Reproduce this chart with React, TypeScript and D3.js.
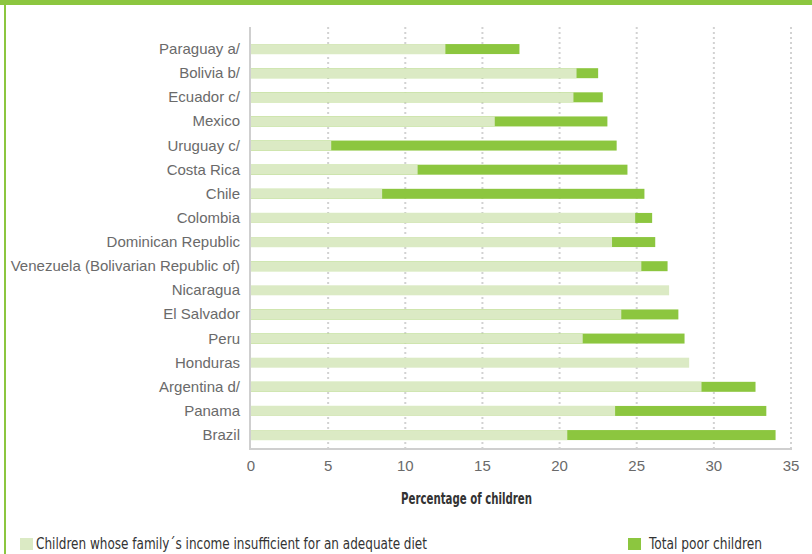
import React from "react";
import * as d3 from "d3";

const countries = [
  "Paraguay a/",
  "Bolivia b/",
  "Ecuador c/",
  "Mexico",
  "Uruguay c/",
  "Costa Rica",
  "Chile",
  "Colombia",
  "Dominican Republic",
  "Venezuela (Bolivarian Republic of)",
  "Nicaragua",
  "El Salvador",
  "Peru",
  "Honduras",
  "Argentina d/",
  "Panama",
  "Brazil",
];

// Children whose family's income is insufficient for an adequate diet (light)
const dietValues = [12.6, 21.1, 20.9, 15.8, 5.2, 10.8, 8.5, 24.9, 23.4, 25.3, 27.1, 24.0, 21.5, 28.4, 29.2, 23.6, 20.5];
// Total poor children (dark); null where not visible
const totalValues: (number | null)[] = [17.4, 22.5, 22.8, 23.1, 23.7, 24.4, 25.5, 26.0, 26.2, 27.0, null, 27.7, 28.1, null, 32.7, 33.4, 34.0];

const xTicks = [0, 5, 10, 15, 20, 25, 30, 35];

const LIGHT = "#dbeac4";
const DARK = "#8cc63f";
const GRID = "#d2d2d2";
const AXIS = "#cfcfcf";
const LABEL = "#6a6a6a";

export default function App() {
  const W = 812;
  const H = 554;
  const x = d3.scaleLinear().domain([0, 35]).range([251, 791]);
  const pad = 1 - 10 / 24.125;
  const y = d3
    .scaleBand<string>()
    .domain(countries)
    .range([37, 37 + 24.125 * countries.length])
    .paddingInner(pad)
    .paddingOuter(pad / 2);
  const plotTop = 27;
  const plotBottom = 448;

  return (
    <svg
      width={W}
      height={H}
      style={{ position: "absolute", left: 0, top: 0, background: "#fff" }}
      fontFamily="'Liberation Sans', Arial, sans-serif"
    >
      {/* frame */}
      <rect x={0} y={0} width={W} height={5} fill={DARK} />
      <rect x={4} y={0} width={2} height={H} fill={DARK} />

      {/* grid */}
      {xTicks.slice(1).map((t) => (
        <line
          key={"g" + t}
          x1={x(t)}
          x2={x(t)}
          y1={plotTop}
          y2={plotBottom}
          stroke={GRID}
          strokeWidth={2}
          strokeDasharray="2,3"
        />
      ))}

      {/* bars */}
      {countries.map((c, i) => {
        const tv = totalValues[i];
        return (
          <g key={c}>
            {tv != null && (
              <rect x={x(0)} y={y(c)} width={x(tv) - x(0)} height={y.bandwidth()} fill={DARK} />
            )}
            <rect x={x(0)} y={y(c)} width={x(dietValues[i]) - x(0)} height={y.bandwidth()} fill={LIGHT} />
          </g>
        );
      })}

      {/* axes lines */}
      <line x1={x(0) - 1} x2={x(0) - 1} y1={plotTop} y2={plotBottom + 1} stroke={AXIS} strokeWidth={2} />
      <line x1={x(0) - 2} x2={x(35) + 1} y1={plotBottom + 1} y2={plotBottom + 1} stroke={AXIS} strokeWidth={2} />

      {/* y labels */}
      {countries.map((c) => (
        <text
          key={"l" + c}
          x={240}
          y={(y(c) as number) + y.bandwidth() / 2}
          dy="0.33em"
          textAnchor="end"
          fontSize={15}
          fill={LABEL}
        >
          {c}
        </text>
      ))}

      {/* x tick labels */}
      {xTicks.map((t) => (
        <text key={"t" + t} x={x(t)} y={466} dy="0.35em" textAnchor="middle" fontSize={15} fill={LABEL}>
          {t}
        </text>
      ))}

      {/* axis title */}
      <text
        x={401}
        y={499}
        dy="0.35em"
        fontSize={15}
        fontWeight={600}
        fill="#333"
        fontFamily="'DejaVu Sans Condensed', 'Liberation Sans Narrow', sans-serif"
        fontStretch="condensed"
        textLength={131}
        lengthAdjust="spacingAndGlyphs"
      >
        Percentage of children
      </text>

      {/* legend */}
      <rect x={20} y={538} width={13} height={12} fill={LIGHT} />
      <text
        x={36}
        y={544}
        dy="0.35em"
        fontSize={15}
        fill="#333"
        fontFamily="'DejaVu Sans Condensed', 'Liberation Sans Narrow', sans-serif"
        fontStretch="condensed"
        textLength={391}
        lengthAdjust="spacingAndGlyphs"
      >
        Children whose family´s income insufficient for an adequate diet
      </text>
      <rect x={628} y={538} width={13} height={12} fill={DARK} />
      <text
        x={649}
        y={544}
        dy="0.35em"
        fontSize={15}
        fill="#333"
        fontFamily="'DejaVu Sans Condensed', 'Liberation Sans Narrow', sans-serif"
        fontStretch="condensed"
        textLength={113}
        lengthAdjust="spacingAndGlyphs"
      >
        Total poor children
      </text>
    </svg>
  );
}
